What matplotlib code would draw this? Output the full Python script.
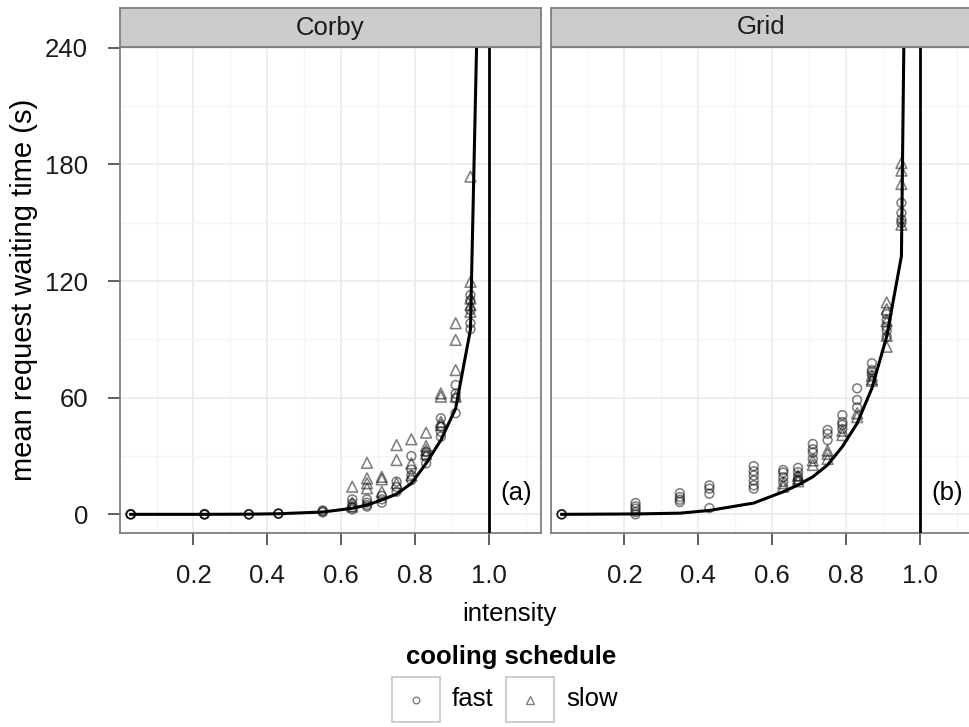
import matplotlib
matplotlib.use("Agg")
import matplotlib.pyplot as plt
from matplotlib.lines import Line2D
from matplotlib.patches import Rectangle

plt.rcParams["font.family"] = ["Liberation Sans", "DejaVu Sans"]

W, H = 970, 727
FS = 18.5

# ── data ────────────────────────────────────────────────────────────────────
intensity = [0.03, 0.23, 0.35, 0.43, 0.55, 0.63, 0.67, 0.71,
             0.75, 0.79, 0.83, 0.87, 0.91, 0.95]

# replicate measurements (s) per intensity level
corby_fast = [[0, 0, 0, 0], [0, 0, 0, 0], [0, 0, 0], [0.3, 0.5, 0.3],
              [1.0, 1.5, 2.0], [2.5, 3.6, 5.5, 7.7], [4.0, 4.8, 6.0, 7.7],
              [6.0, 7.7, 9.5], [11.6, 14.0, 16.8], [17.6, 20.2, 23.0, 30.0],
              [26.2, 29.6, 32.0], [39.9, 42.5, 45.0, 49.4],
              [52.0, 59.7, 62.0, 66.5], [95.2, 98.3, 105.0, 110.0, 112.8]]
corby_slow = [[], [], [], [], [], [4.0, 6.0, 14.2], [13.4, 16.0, 18.5, 26.5],
              [11.6, 18.0, 19.3], [16.0, 27.9, 35.6], [20.0, 26.2, 38.6],
              [31.0, 33.0, 35.1, 42.0], [46.0, 47.6, 60.5, 62.2],
              [60.5, 74.2, 89.7, 98.3], [104.2, 107.7, 111.0, 119.6, 173.7]]

grid_fast = [[0, 0, 0], [0, 1.2, 2.9, 4.1, 5.8], [6.3, 7.5, 8.9, 10.9],
             [3.2, 10.6, 13.2, 14.9], [13.2, 14.9, 17.4, 20.0, 22.2, 24.8],
             [16.6, 19.1, 21.5, 22.8], [17.4, 19.5, 21.7, 23.9],
             [28.5, 31.7, 33.5, 36.2], [38.2, 41.4, 43.4],
             [43.9, 46.0, 47.5, 51.0], [55.0, 58.8, 64.8],
             [71.5, 73.0, 74.2, 77.7], [91.4, 94.4, 96.5, 100.0, 103.0],
             [149.9, 151.6, 155.0, 160.2]]
grid_slow = [[], [], [], [], [], [14.2, 16.0], [17.0, 18.3, 20.0],
             [25.4, 27.7], [28.5, 31.1, 32.8], [40.8, 43.0], [50.0, 52.0],
             [68.7, 69.5, 71.3], [86.2, 91.8, 99.5, 105.5, 109.0],
             [149.0, 169.9, 176.8, 180.7]]

# theoretical curve
theory_x = intensity + [0.99]
corby_theory = [0, 0, 0.1, 0.3, 1.2, 3.1, 4.8, 7.4, 10.4, 15.9, 26.2, 38.2,
                54.5, 95.0, 445.0]
grid_theory = [0, 0.2, 0.6, 2.0, 5.8, 11.6, 15.1, 19.3, 25.4, 34.8, 46.8,
               64.8, 91.4, 132.8, 800.0]

panels = ["Corby", "Grid"]
tags = ["(a)", "(b)"]


def fx(px):
    return px / W


def fy(py):
    return 1 - py / H


def flatten(reps):
    xs = [x for x, r in zip(intensity, reps) for _ in r]
    ys = [v for r in reps for v in r]
    return xs, ys


fig = plt.figure(figsize=(W / 100, H / 100), dpi=100)

left_px = [119.6, 550.6]
pw = 421.0
top_px, bot_px, strip_top = 46.7, 533.0, 8.3

series = [(corby_fast, corby_slow, corby_theory),
          (grid_fast, grid_slow, grid_theory)]

for i, (name, tag, (fast, slow, theory)) in enumerate(zip(panels, tags, series)):
    ax = fig.add_axes([fx(left_px[i]), fy(bot_px), fx(pw), fy(top_px) - fy(bot_px)])
    ax.set_xlim(0, 1.14)
    ax.set_ylim(-9.6, 240.5)

    ax.set_xticks([0.2, 0.4, 0.6, 0.8, 1.0])
    ax.set_xticklabels(["0.2", "0.4", "0.6", "0.8", "1.0"])
    ax.set_xticks([0.1, 0.3, 0.5, 0.7, 0.9, 1.1], minor=True)
    ax.set_yticks([0, 60, 120, 180, 240])
    ax.set_yticks([30, 90, 150, 210], minor=True)
    ax.grid(True, which="major", color="#ebebeb", lw=1.2)
    ax.grid(True, which="minor", color="#f5f5f5", lw=0.9)
    ax.set_axisbelow(True)
    ax.tick_params(which="major", length=8.6, width=1.1, color="#333333",
                   labelsize=FS, labelcolor="#1a1a1a", pad=14)
    ax.tick_params(which="minor", length=0)
    if i == 1:
        ax.tick_params(axis="y", which="major", length=0, labelleft=False)
    for sp in ax.spines.values():
        sp.set_color("#7f7f7f")
        sp.set_linewidth(1.3)

    fxs, fys = flatten(fast)
    sxs, sys_ = flatten(slow)
    ax.scatter(fxs, fys, s=40, marker="o", facecolors="none",
               edgecolors="black", alpha=0.5, linewidths=1.15, zorder=3)
    ax.scatter(sxs, sys_, s=60, marker="^", facecolors="none",
               edgecolors="black", alpha=0.5, linewidths=1.15, zorder=3)
    ax.plot(theory_x, theory, color="black", lw=2.2, zorder=4)
    ax.axvline(1.0, color="black", lw=2.0, zorder=4)
    ax.text(1.073, 11, tag, fontsize=FS, ha="center", va="center", zorder=5)

    # facet strip
    sax = fig.add_axes([fx(left_px[i]), fy(top_px), fx(pw), fy(strip_top) - fy(top_px)])
    sax.set_facecolor("#cccccc")
    sax.set_xticks([])
    sax.set_yticks([])
    for sp in sax.spines.values():
        sp.set_color("#7f7f7f")
        sp.set_linewidth(1.3)
    sax.text(0.5, 0.5, name, fontsize=FS, ha="center", va="center",
             transform=sax.transAxes, color="#1a1a1a")

# axis titles
fig.text(fx(24), fy(290), "mean request waiting time (s)", fontsize=21,
         rotation=90, ha="center", va="center")
fig.text(fx(509), fy(614), "intensity", fontsize=FS, ha="center", va="center")

# legend (drawn by hand: ggplot style keys)
fig.text(fx(511), fy(657), "cooling schedule", fontsize=FS, fontweight="bold",
         ha="center", va="center")
for bx, mk, ms, label in [(391.7, "o", 4.8, "fast"), (506.0, "^", 5.6, "slow")]:
    fig.add_artist(Rectangle((fx(bx), fy(721.7)), fx(48.3), fy(676.7) - fy(721.7),
                             facecolor="white", edgecolor="#c8c8c8", lw=1.3,
                             transform=fig.transFigure))
    fig.add_artist(Line2D([fx(bx + 24)], [fy(700)], marker=mk, ms=ms,
                          mfc="none", mec=(0, 0, 0, 0.5), mew=1.0,
                          linestyle="none", transform=fig.transFigure))
    fig.text(fx(bx + 60), fy(699), label, fontsize=FS, ha="left", va="center")

fig.savefig("out.png", dpi=100)
